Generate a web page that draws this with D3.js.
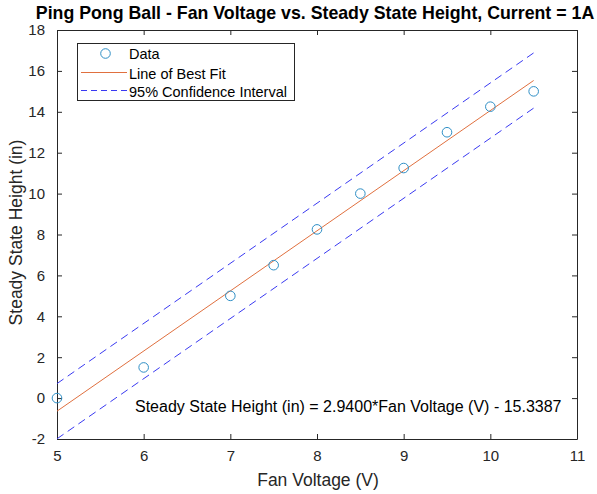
<!DOCTYPE html>
<html><head><meta charset="utf-8">
<script src="https://cdn.jsdelivr.net/npm/d3@7"></script>
<style>
body{margin:0;background:#fff;}
svg{display:block;font-family:Arial,"Liberation Sans",Helvetica,sans-serif;}
</style></head>
<body><svg id="chart" width="597" height="494"></svg>
<script>
const voltage = [5, 6, 7, 7.5, 8, 8.5, 9, 9.5, 10, 10.5];
const height = [0, 1.5, 5, 6.5, 8.25, 10, 11.25, 13, 14.25, 15];
const fitSlope = 2.94;
const fitIntercept = -15.3387;
const lineX = [5, 10.5];
const ciUpper = [0.71, 16.88];
const ciLower = [-1.99, 14.18];
const xTicks = [5, 6, 7, 8, 9, 10, 11];
const yTicks = [-2, 0, 2, 4, 6, 8, 10, 12, 14, 16, 18];
const legendLabels = ["Data", "Line of Best Fit", "95% Confidence Interval"];
const titleText = "Ping Pong Ball - Fan Voltage vs. Steady State Height, Current = 1A";
const xLabel = "Fan Voltage (V)";
const yLabel = "Steady State Height (in)";
const equationText = "Steady State Height (in) = 2.9400*Fan Voltage (V) - 15.3387";

const svg = d3.select("#chart");
const L = 57, R = 577, T = 30, B = 439;
const axCol = "#262626";
const x = d3.scaleLinear().domain([5, 11]).range([L, R]);
const y = d3.scaleLinear().domain([-2, 18]).range([B, T]);
const fmt = d => String(d);

// axes
const tl = 5;
const gB = svg.append("g").attr("transform", `translate(0,${B})`)
  .call(d3.axisBottom(x).tickValues(xTicks).tickFormat(fmt).tickSizeInner(-tl).tickSizeOuter(0).tickPadding(11));
const gT = svg.append("g").attr("transform", `translate(0,${T})`)
  .call(d3.axisTop(x).tickValues(xTicks).tickSizeInner(-tl).tickSizeOuter(0).tickFormat(""));
const gL = svg.append("g").attr("transform", `translate(${L},0)`)
  .call(d3.axisLeft(y).tickValues(yTicks).tickFormat(fmt).tickSizeInner(-tl).tickSizeOuter(0).tickPadding(12));
const gR = svg.append("g").attr("transform", `translate(${R},0)`)
  .call(d3.axisRight(y).tickValues(yTicks).tickSizeInner(-tl).tickSizeOuter(0).tickFormat(""));
[gB, gT, gL, gR].forEach(g => {
  g.selectAll("path").attr("stroke", axCol).attr("stroke-width", 1);
  g.selectAll("line").attr("stroke", axCol).attr("stroke-width", 1);
  g.selectAll("text").attr("fill", axCol).style("font-size", "15px").style("font-family", null);
});

// CI lines
const line = d3.line().x(d => x(d[0])).y(d => y(d[1]));
svg.append("path").datum(lineX.map((v, i) => [v, ciUpper[i]]))
  .attr("d", line).attr("fill", "none").attr("stroke", "#3a3af2").attr("stroke-width", 1)
  .attr("stroke-dasharray", "8,5");
svg.append("path").datum(lineX.map((v, i) => [v, ciLower[i]]))
  .attr("d", line).attr("fill", "none").attr("stroke", "#3a3af2").attr("stroke-width", 1)
  .attr("stroke-dasharray", "8,5");
// fit
svg.append("path").datum(lineX.map(v => [v, fitSlope * v + fitIntercept]))
  .attr("d", line).attr("fill", "none").attr("stroke", "#e0703f").attr("stroke-width", 1);
// data
svg.append("g").selectAll("circle").data(voltage).join("circle")
  .attr("cx", (d) => x(d)).attr("cy", (d, i) => y(height[i])).attr("r", 4.8)
  .attr("fill", "none").attr("stroke", "#2f8fc6").attr("stroke-width", 1);

// legend
const lg = svg.append("g");
lg.append("rect").attr("x", 77.5).attr("y", 43.5).attr("width", 217).attr("height", 57)
  .attr("fill", "#fff").attr("stroke", axCol).attr("stroke-width", 1);
const rows = [53.5, 72.5, 90.5];
const textBase = [59, 78.5, 97];
lg.append("circle").attr("cx", 105.5).attr("cy", rows[0]).attr("r", 4.8)
  .attr("fill", "none").attr("stroke", "#2f8fc6");
lg.append("line").attr("x1", 81).attr("x2", 127).attr("y1", rows[1]).attr("y2", rows[1])
  .attr("stroke", "#e0703f");
lg.append("line").attr("x1", 81).attr("x2", 127).attr("y1", rows[2]).attr("y2", rows[2])
  .attr("stroke", "#3a3af2").attr("stroke-dasharray", "6,4");
lg.selectAll("text.l").data(legendLabels).join("text").attr("class", "l")
  .attr("x", 129).attr("y", (d, i) => textBase[i]).attr("fill", "#000")
  .style("font-size", "14.5px").text(d => d);

// equation
svg.append("text").attr("x", 135).attr("y", 412).attr("fill", "#000")
  .style("font-size", "16px").text(equationText);

// title & labels
svg.append("text").attr("x", 315).attr("y", 18.5).attr("text-anchor", "middle")
  .attr("fill", "#000").style("font-size", "17.75px").style("font-weight", "bold").text(titleText);
svg.append("text").attr("x", 318).attr("y", 486).attr("text-anchor", "middle")
  .attr("fill", axCol).style("font-size", "17.5px").text(xLabel);
svg.append("text").attr("transform", `translate(22,${(T + B) / 2 - 2}) rotate(-90)`)
  .attr("text-anchor", "middle").attr("fill", axCol).style("font-size", "17.5px").text(yLabel);
</script></body></html>
